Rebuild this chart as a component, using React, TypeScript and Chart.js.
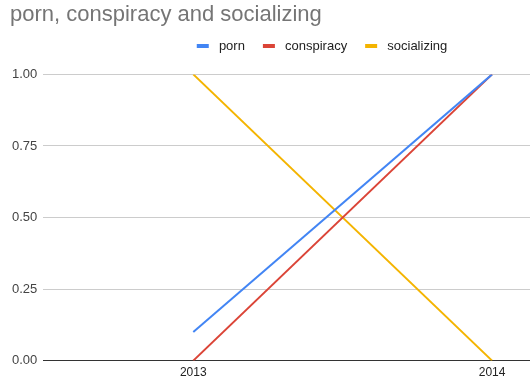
import React, { useEffect, useRef } from "react";
import { Chart, registerables } from "chart.js";

Chart.register(...registerables);

const titleText = "porn, conspiracy and socializing";
const years = [2013, 2014];
const seriesNames = ["porn", "conspiracy", "socializing"];
const porn = [0.1, 1.0];
const conspiracy = [0, 1.0];
const socializing = [1.0, 0];
const yTicks = [0, 0.25, 0.5, 0.75, 1.0];
const colors = ["#4285F4", "#DB4437", "#F4B400"];

const FONT = "Arial, 'Liberation Sans', sans-serif";

export default function App() {
  const ref = useRef<HTMLCanvasElement | null>(null);
  useEffect(() => {
    if (!ref.current) return;
    const values = [porn, conspiracy, socializing];
    const legendPlugin = {
      id: "legendTweak",
      beforeInit(chart: any) {
        const lg = chart.legend;
        if (lg) {
          const fit = lg.fit;
          lg.fit = function () {
            fit.call(this);
            this.height = 44;
          };
        }
      },
      afterLayout(chart: any) {
        const lg = chart.legend;
        if (lg) {
          const h = lg.bottom - lg.top;
          lg.top = 21.5;
          lg.bottom = lg.top + h;
          lg.left += 54;
          lg.right += 54;
        }
        const tb = chart.titleBlock;
        if (tb) {
          tb.left += 4;
          tb.right += 4;
        }
      },
    };
    const chart = new Chart(ref.current, {
      type: "line",
      data: {
        datasets: seriesNames.map((name, i) => ({
          label: name,
          data: years.map((yr, j) => ({ x: yr, y: values[i][j] })),
          borderColor: colors[i],
          backgroundColor: colors[i],
          borderWidth: 2,
          pointRadius: 0,
          tension: 0,
        })),
      },
      options: {
        animation: false,
        responsive: true,
        maintainAspectRatio: false,
        layout: { padding: { left: 6, right: 0, top: 0, bottom: 4 } },
        plugins: {
          title: {
            display: true,
            text: titleText,
            align: "start",
            color: "#757575",
            font: { family: FONT, size: 22, weight: "normal" },
            padding: { top: 2, bottom: 2 },
          },
          legend: {
            display: true,
            position: "top",
            align: "center",
            labels: {
              boxWidth: 12,
              boxHeight: 4,
              padding: 18,
              color: "#222",
              font: { family: FONT, size: 13 },
              generateLabels(chart: any) {
                const items = Chart.defaults.plugins.legend.labels.generateLabels(chart);
                return items.map((it: any) => ({ ...it, text: " " + it.text, lineWidth: 0 }));
              },
            },
          },
          tooltip: { enabled: false },
        },
        scales: {
          x: {
            type: "linear",
            min: 2012.498,
            max: 2014.127,
            afterBuildTicks(scale: any) {
              scale.ticks = years.map((v) => ({ value: v }));
            },
            grid: { display: false, drawTicks: false },
            border: { display: false },
            ticks: {
              color: "#222",
              padding: 5,
              font: { family: FONT, size: 12 },
              callback: (v: any) => String(v),
            },
          },
          y: {
            min: 0,
            max: 1,
            afterBuildTicks(scale: any) {
              scale.ticks = yTicks.map((v) => ({ value: v }));
            },
            grid: {
              drawTicks: false,
              color: (ctx: any) => (ctx.tick && ctx.tick.value === 0 ? "#333" : "#ccc"),
              lineWidth: 1,
            },
            border: { display: false },
            ticks: {
              color: "#444",
              padding: 6,
              font: { family: FONT, size: 13 },
              callback: (v: any) => Number(v).toFixed(2),
            },
          },
        },
      },
      plugins: [legendPlugin],
    } as any);
    return () => chart.destroy();
  }, []);
  return (
    <div style={{ position: "fixed", left: 0, top: 0, width: 530, height: 389, background: "#fff" }}>
      <canvas ref={ref} />
    </div>
  );
}
